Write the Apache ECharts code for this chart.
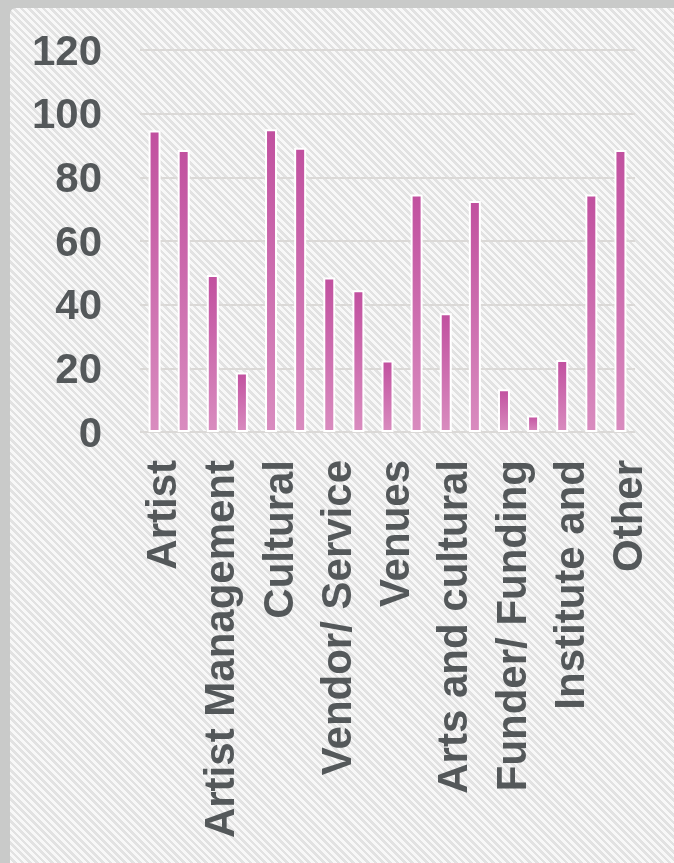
<!DOCTYPE html>
<html>
<head>
<meta charset="utf-8">
<script src="https://cdn.jsdelivr.net/npm/echarts@6/dist/echarts.min.js"></script>
<style>
  html, body { margin: 0; padding: 0; width: 674px; height: 863px; overflow: hidden; }
  #frame { position: absolute; left: 0; top: 0; width: 674px; height: 863px; background: #c9cac9; }
  #panel { position: absolute; left: 10px; top: 8px; right: 0; bottom: 0;
    border-top-left-radius: 6px;
    background: repeating-linear-gradient(45deg, #f8f8f8 0px, #f8f8f8 2.6px, #e2e2e2 2.6px, #e2e2e2 5.2px); }
  #chart { position: absolute; left: 0; top: 0; width: 674px; height: 863px; }
</style>
</head>
<body>
<div id="frame"><div id="panel"></div></div>
<div id="chart"></div>
<script>
// 17 categories; only every other label is visible in the reference
const categories = [
  'Artist', '', 'Artist Management', '', 'Cultural', '', 'Vendor/ Service', '',
  'Venues', '', 'Arts and cultural', '', 'Funder/ Funding', '', 'Institute and', '', 'Other'
];
const values = [94.7, 88.6, 49.3, 18.7, 95.1, 89.3, 48.5, 44.5, 22.5, 74.6, 37.3, 72.6, 13.4, 5.2, 22.6, 74.6, 88.6];
const yTicks = { min: 0, max: 120, interval: 20 };

const chart = echarts.init(document.getElementById('chart'), null, { renderer: 'canvas' });
chart.setOption({
  backgroundColor: 'transparent',
  animation: false,
  grid: { left: 140, right: 39, top: 50, bottom: 431, containLabel: false },
  xAxis: {
    type: 'category',
    data: categories,
    axisLine: { show: false },
    axisTick: { show: false },
    splitLine: { show: false },
    axisLabel: {
      interval: 1,
      rotate: 90,
      margin: 28,
      verticalAlign: 'top',
      lineHeight: 20,
      fontFamily: 'Liberation Sans, Arial, sans-serif',
      fontWeight: 'bold',
      fontSize: 42,
      color: '#54585a'
    }
  },
  yAxis: {
    type: 'value',
    min: yTicks.min, max: yTicks.max, interval: yTicks.interval,
    axisLine: { show: false },
    axisTick: { show: false },
    splitLine: { show: true, lineStyle: { color: '#dbd9d7', width: 2 } },
    axisLabel: {
      margin: 38,
      verticalAlign: 'top',
      lineHeight: 6,
      fontFamily: 'Liberation Sans, Arial, sans-serif',
      fontWeight: 'bold',
      fontSize: 42,
      color: '#54585a'
    }
  },
  series: [{
    type: 'bar',
    data: values,
    barWidth: 12,
    itemStyle: {
      borderColor: '#ffffff',
      borderWidth: 2,
      color: new echarts.graphic.LinearGradient(0, 0, 0, 1, [
        { offset: 0, color: '#c1509f' },
        { offset: 1, color: '#d98cbf' }
      ])
    }
  }]
});
</script>
</body>
</html>
